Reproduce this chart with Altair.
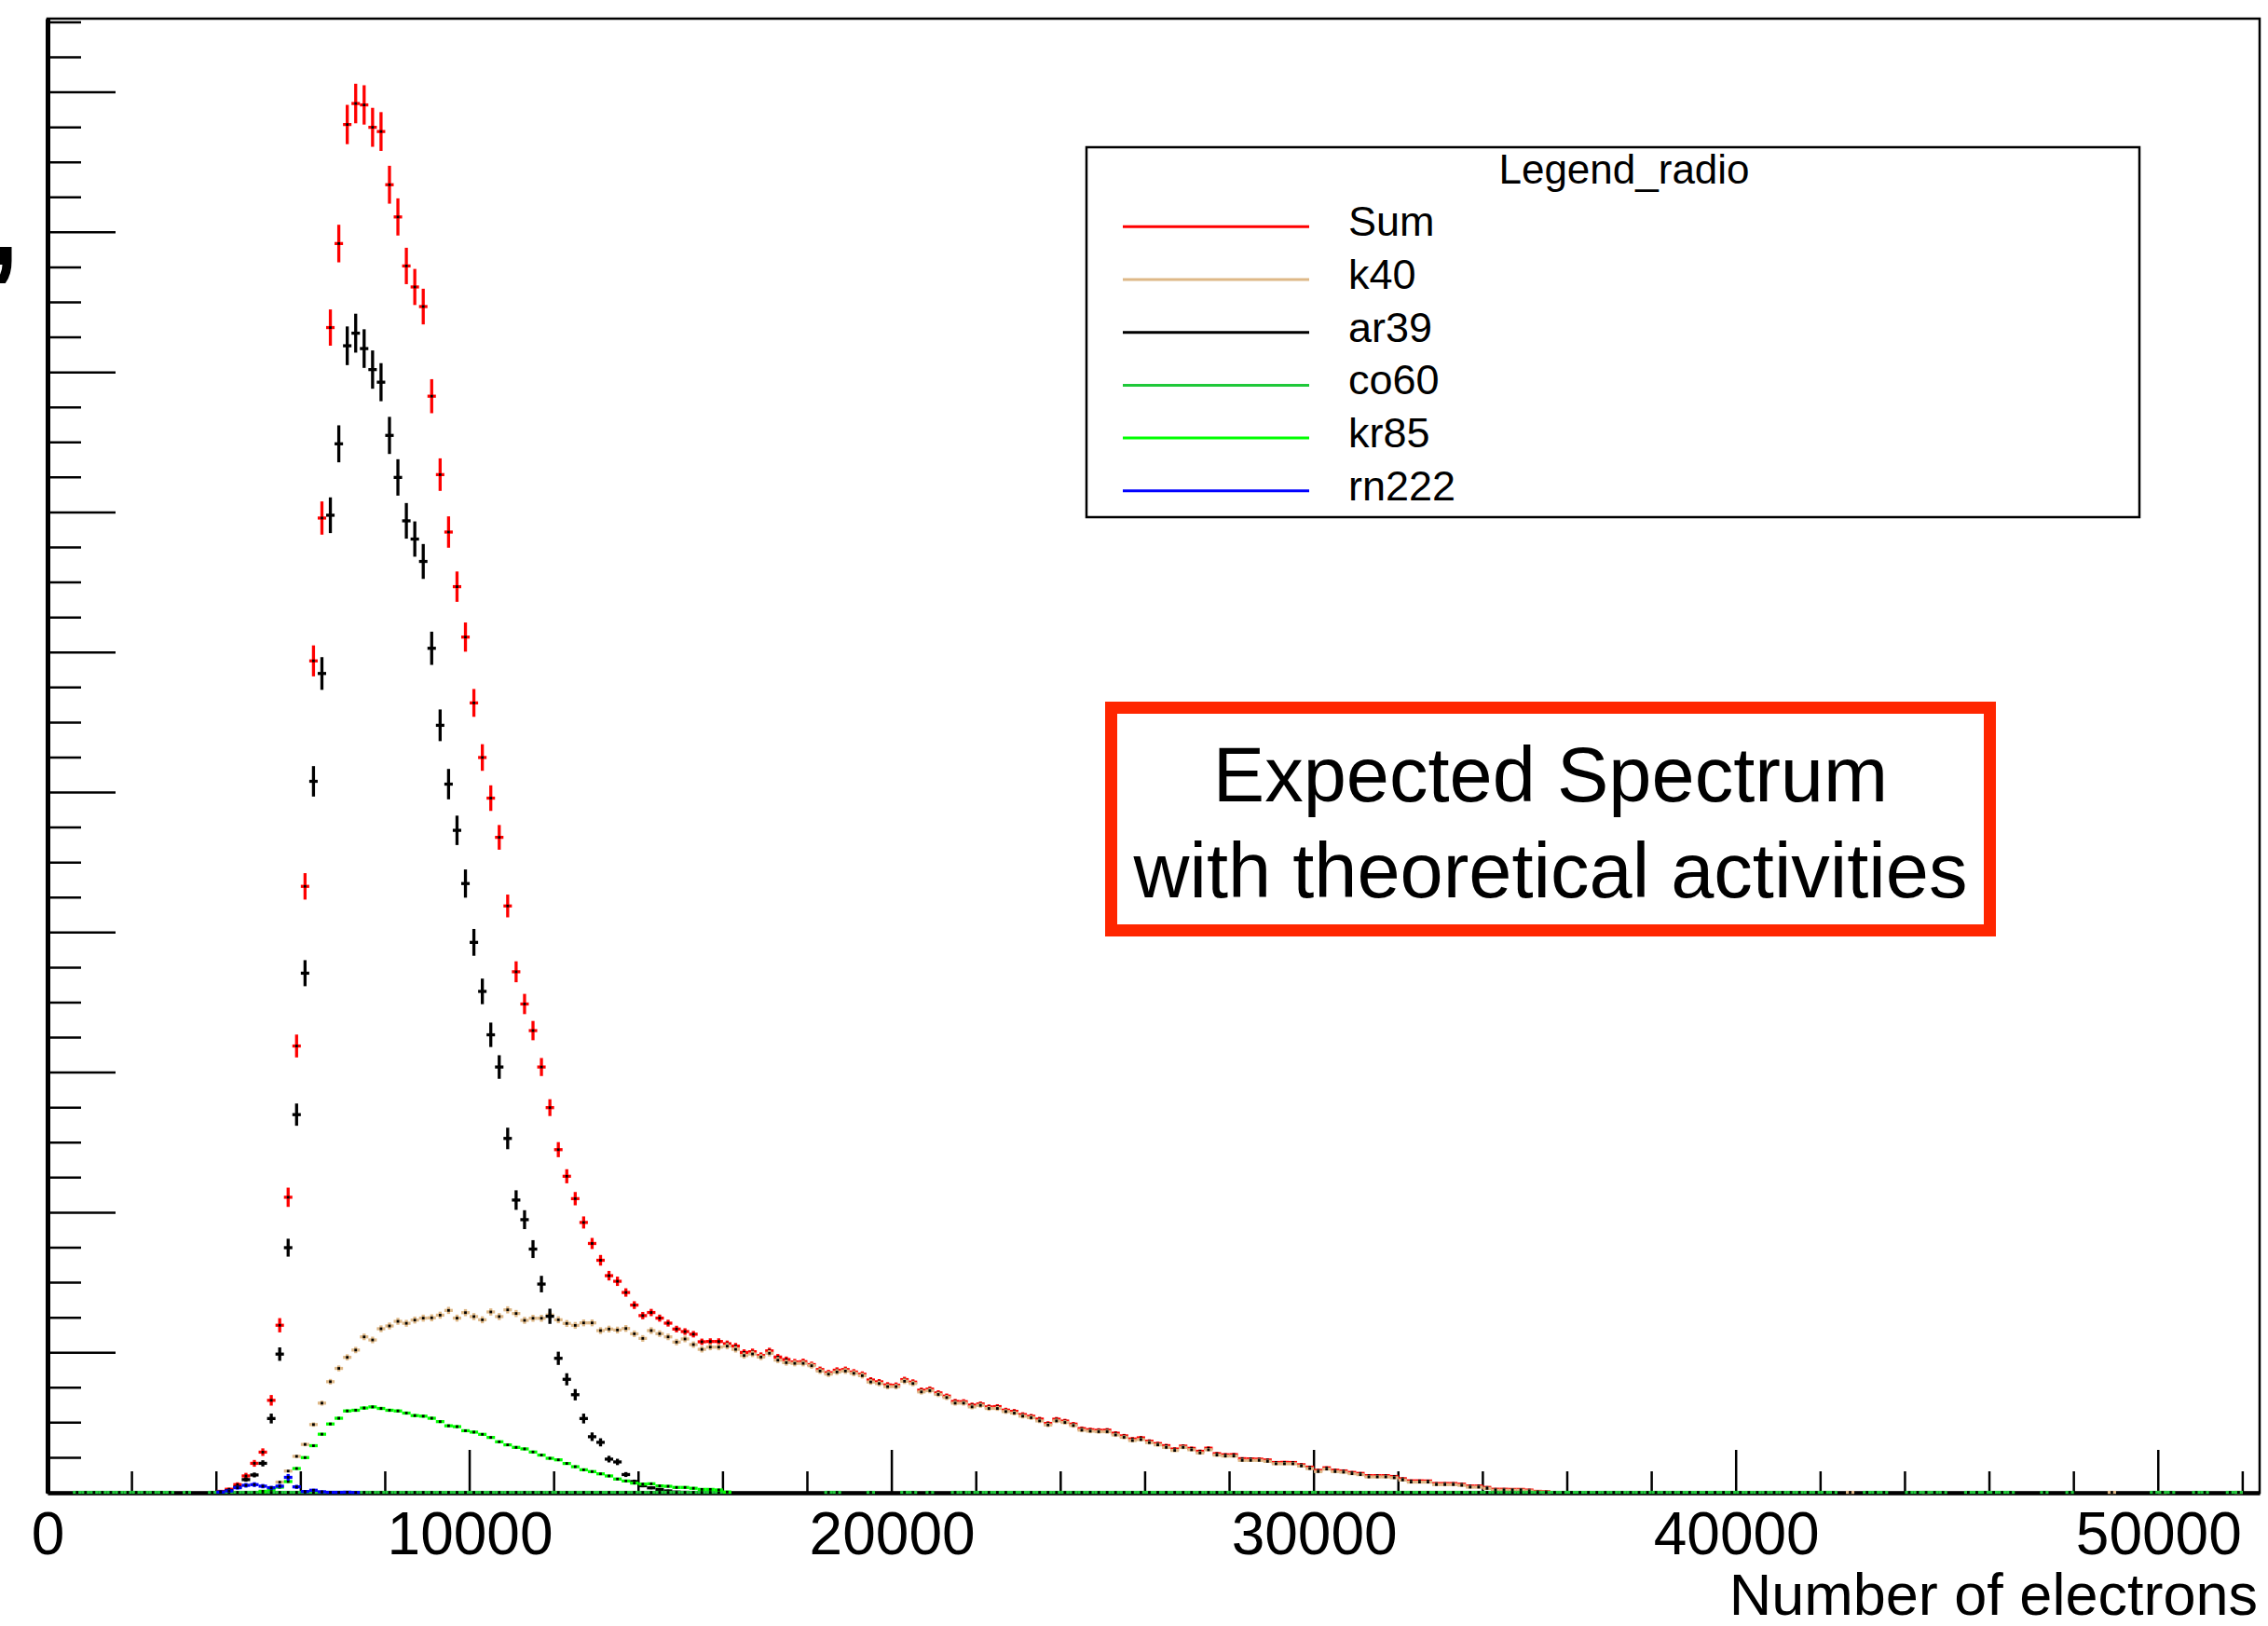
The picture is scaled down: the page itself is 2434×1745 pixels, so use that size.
import math
import altair as alt
import pandas as pd

# ---------------------------------------------------------------- axes
X_MAX = 52400
Y_MAX = 1052.6
BIN_WIDTH = 200

X_LABELS = [0, 10000, 20000, 30000, 40000, 50000]
X_MAJOR_TICKS = [10000, 20000, 30000, 40000, 50000]
X_MINOR_TICKS = [v for v in range(2000, 52001, 2000) if v % 10000]
Y_MAJOR_TICKS = list(range(100, 1001, 100))
Y_MINOR_TICKS = [v for v in range(25, 1051, 25) if v % 100]

# ---------------------------------------------------------------- histogram contents
# each list holds consecutive bins (width BIN_WIDTH) starting at the given bin centre
SUM_START = 4100
SUM = [1, 2.5, 5.8, 12, 21, 29, 66, 119.6, 211, 319, 433, 594, 696, 832, 892, 977,
       992, 991, 975, 972, 934, 911, 876, 861, 847, 783, 727, 686, 647, 611, 564, 525,
       496, 468, 419, 372, 349, 330, 304, 275, 245, 226, 210, 193, 178, 166, 155, 151,
       143, 134, 126.5, 128.7, 124.7, 121.1, 116.9, 115.1, 113.2, 107.8, 108, 108, 106.4,
       104.7, 100.2, 100.7, 98, 101.3, 96.9, 95.1,
       93.4, 93.6, 91.5, 88, 85.7, 87.5, 88, 86.2, 84.6, 80.5, 79.2, 77, 76.8, 80.8, 79,
       73.2, 74, 71.3, 69, 65.2, 65, 62.6, 63.4, 61.3, 61.5, 59, 58.1, 55.8, 54.6, 52.6,
       49.5, 52.5, 51.2, 49, 45.8, 45, 44.6, 44.7, 42.5, 40.6, 38.4, 39.2, 36.8, 35.1,
       33.6, 31.2, 33.3, 31.7, 29.6, 31.8, 27.9, 27.1, 27.2, 24.3, 24.2, 24, 23.4, 21.6,
       21.7, 21.6, 20, 18.3, 16, 17.8, 16.1, 15.6, 14.5, 13.8, 12.2, 12.2, 12.2, 11.6,
       10, 8.5, 8.5, 8.4, 6.6, 6.6, 6.6, 6.1, 4.8, 4.8, 3.8, 2.5, 2.5, 2.4, 2.4, 1.9,
       1, 0.7]

K40_START = 5100
K40 = [1, 3.6, 7.6, 15.5, 26, 34.5, 48.7, 64, 79.3, 88.8, 96.7, 101.9, 111.3, 109.1,
       117.1, 119.1, 122.4, 121, 123.3, 124.7, 124.9, 126.8, 130.2, 124.7, 128.6, 125.8,
       123.5, 129.1, 125.8, 130.6, 128, 123.1, 124.6, 124.6, 126.9, 123.5, 120.9, 119.5,
       121.3, 121.3, 115.8, 116.9, 116.2, 117.3, 113.5, 110.2, 115.8, 113.6, 111.3, 107.6,
       109.8, 105.8, 102.4, 104, 104, 104.7, 102.4, 98, 99.1, 96.9, 99.6, 94.7, 92.9,
       92.4, 92.4, 90.7, 86.9, 84.7, 86.2, 86.9, 85.3, 83.6, 79.1, 78, 75.8, 75.8, 79.6,
       78, 72, 72.9, 70.2, 68, 64, 64, 61.3, 62.4, 60.2, 60.2, 58, 56.9, 54.7, 53.6,
       51.3, 48.4, 51.3, 50.2, 48, 44.7, 44, 43.6, 43.6, 41.3, 39.6, 37.3, 38, 35.8,
       34.2, 32.4, 30.2, 32.4, 30.7, 28.4, 30.7, 26.9, 26.2, 26.2, 23.1, 23.1, 23.1,
       22.4, 20.7, 20.7, 20.7, 19.1, 17.3, 15.1, 16.9, 15.1, 14.7, 13.6, 12.9, 11.3,
       11.3, 11.3, 10.7, 9.1, 7.6, 7.6, 7.6, 5.8, 5.8, 5.8, 5.3, 4, 4, 3.1, 1.8, 1.8,
       1.8, 1.8, 1.3, 0.5, 0.3]
K40_FAR = {42700: 0.3, 44500: 0.3, 48900: 0.3, 50100: 0.3, 51900: 0.3}

AR39_START = 4100
AR39 = [0.5, 1.5, 4, 9.4, 12.7, 21, 53, 99, 175, 270, 371, 508, 585, 698, 749, 819,
        828, 817, 802, 793, 755, 725, 694, 681, 665, 603, 548, 506, 473, 435, 393, 358,
        327, 304, 253, 209, 195, 174, 149, 126, 96, 81, 70, 53, 40, 36, 24, 22, 13, 8,
        5, 3.5, 2.4, 1.3, 0.5, 0.3]

KR85_START = 5100
KR85 = [1, 2.4, 4, 8, 17.3, 25.1, 33.6, 41.8, 49.1, 53.2, 58.4, 58.9, 60.5, 61.3, 60.2,
        58.9, 58.4, 56.9, 55.1, 54.7, 53.2, 50.8, 47.8, 47.2, 44.3, 43.3, 41.7, 39.5,
        36.4, 34.2, 32.4, 31.3, 29.1, 26.9, 24.6, 23.5, 20.9, 18.6, 16.4, 15.1, 13.5, 12,
        9.8, 8.4, 6.9, 6.2, 6.4, 4.9, 4.6, 3.8, 3.8, 3.2, 2.4, 2.4, 2, 0.5]

RN222_START = 4100
RN222 = [0.5, 1.3, 3.6, 5.3, 5.8, 4.7, 3.6, 4.7, 11, 4.2, 0.9, 1.8, 0.7, 0.3, 0.3, 0.4, 0.2]

# co60 only leaves a trace just above zero; runs of filled bins (first, last centre)
CO60_RUNS = [(700, 2900), (3300, 3300), (3900, 16100), (18500, 18700), (19500, 19500),
             (20300, 20500), (20900, 20900), (21500, 42300), (43100, 43500),
             (44100, 44900), (45500, 46500), (47300, 47300), (47900, 47900),
             (49900, 50300), (50900, 51100), (51700, 51900)]
CO60_LEVEL = 0.3

# per-entry weight: the bin error is sqrt(weight * content)
ERR_WEIGHT = {"k40": 0.05, "ar39": 0.233, "co60": 0.0, "kr85": 0.02, "rn222": 0.5}

SERIES_ORDER = ["Sum", "k40", "ar39", "co60", "kr85", "rn222"]
COLORS = {"Sum": "#ff0000", "k40": "#deb887", "ar39": "#000000",
          "co60": "#1fc83a", "kr85": "#00ff00", "rn222": "#0000ff"}


def expand(start, values):
    return {start + BIN_WIDTH * i: v for i, v in enumerate(values)}


contents = {
    "Sum": expand(SUM_START, SUM),
    "k40": {**expand(K40_START, K40), **K40_FAR},
    "ar39": expand(AR39_START, AR39),
    "co60": {c: CO60_LEVEL for a, b in CO60_RUNS for c in range(a, b + 1, BIN_WIDTH)},
    "kr85": expand(KR85_START, KR85),
    "rn222": expand(RN222_START, RN222),
}


def bin_error(name, centre, value):
    if name == "Sum":
        var = sum(ERR_WEIGHT[k] * contents[k].get(centre, 0.0) for k in ERR_WEIGHT)
    else:
        var = ERR_WEIGHT[name] * value
    return math.sqrt(max(var, 0.0))


frames = {}
for name in SERIES_ORDER:
    rows = []
    for centre, value in sorted(contents[name].items()):
        if value <= 0:
            continue
        err = bin_error(name, centre, value)
        rows.append({"centre": centre, "left": centre - BIN_WIDTH / 2,
                     "right": centre + BIN_WIDTH / 2, "content": value,
                     "lo": max(value - err, 0.0), "hi": value + err})
    frames[name] = pd.DataFrame(rows)

# ---------------------------------------------------------------- chart
W, H = 2374, 1582
FONT = "Liberation Sans"
xs = alt.Scale(domain=[0, X_MAX], nice=False, zero=False)
ys = alt.Scale(domain=[0, Y_MAX], nice=False, zero=False)
# identical axis definitions on every layer so the shared axes merge cleanly
X_AXIS = alt.Axis(values=X_LABELS, format="d", labelFont=FONT, labelFontSize=64,
                  labelColor="black", labelPadding=14, ticks=False, grid=False,
                  domain=True, domainColor="black", domainWidth=4.5, title=None,
                  labelFlush=False, labelOverlap=False)
Y_AXIS = alt.Axis(labels=False, ticks=False, grid=False, domain=True,
                  domainColor="black", domainWidth=5, title=None)


def X(field):
    return alt.X(field, scale=xs, axis=X_AXIS)


def Y(field):
    return alt.Y(field, scale=ys, axis=Y_AXIS)


one = pd.DataFrame({"k": [0]})
layers = []

# ROOT-style ticks drawn inside the frame
layers.append(alt.Chart(pd.DataFrame({"v": X_MAJOR_TICKS})).mark_rule(
    color="black", strokeWidth=2.5).encode(x=X("v:Q"), y=alt.value(H), y2=alt.value(H - 46)))
layers.append(alt.Chart(pd.DataFrame({"v": X_MINOR_TICKS})).mark_rule(
    color="black", strokeWidth=2.5).encode(x=X("v:Q"), y=alt.value(H), y2=alt.value(H - 23)))
layers.append(alt.Chart(pd.DataFrame({"v": Y_MAJOR_TICKS})).mark_rule(
    color="black", strokeWidth=2.5).encode(y=Y("v:Q"), x=alt.value(0), x2=alt.value(73)))
layers.append(alt.Chart(pd.DataFrame({"v": Y_MINOR_TICKS})).mark_rule(
    color="black", strokeWidth=2.5).encode(y=Y("v:Q"), x=alt.value(0), x2=alt.value(36)))

# histograms drawn with error crosses and a dot at each bin centre
for name in SERIES_ORDER:
    df = frames[name]
    col = COLORS[name]
    base = alt.Chart(df)
    vbar = base.mark_rule(color=col, strokeWidth=3.3).encode(
        x=X("centre:Q"), y=Y("lo:Q"), y2="hi:Q")
    hbar = base.mark_rule(color=col, strokeWidth=3.3).encode(
        x=X("left:Q"), x2="right:Q", y=Y("content:Q"))
    dot = base.mark_square(color="black", size=8, opacity=1).encode(
        x=X("centre:Q"), y=Y("content:Q"))
    layers += [vbar, hbar, dot]

# legend box
layers.append(alt.Chart(one).mark_rect(fill="white", stroke="black", strokeWidth=2.5).encode(
    x=alt.value(1115), x2=alt.value(2245), y=alt.value(138), y2=alt.value(535)))
layers.append(alt.Chart(one).mark_text(
    text="Legend_radio", font=FONT, fontSize=44, color="black",
    align="center", baseline="alphabetic").encode(x=alt.value(1692), y=alt.value(177)))
for i, name in enumerate(SERIES_ORDER):
    row_y = 223.3 + 56.7 * i
    layers.append(alt.Chart(one).mark_rule(color=COLORS[name], strokeWidth=3).encode(
        x=alt.value(1154), x2=alt.value(1354), y=alt.value(row_y)))
    layers.append(alt.Chart(one).mark_text(
        text=name, font=FONT, fontSize=45, color="black",
        align="left", baseline="alphabetic").encode(
        x=alt.value(1396), y=alt.value(row_y + 10)))

# framed annotation
layers.append(alt.Chart(one).mark_rect(fill="white", stroke="#ff2600", strokeWidth=13).encode(
    x=alt.value(1141.5), x2=alt.value(2084.5), y=alt.value(739.5), y2=alt.value(978.5)))
for txt, yb in [("Expected Spectrum", 840), ("with theoretical activities", 943)]:
    layers.append(alt.Chart(one).mark_text(
        text=txt, font=FONT, fontSize=83, color="black",
        align="center", baseline="alphabetic").encode(x=alt.value(1613), y=alt.value(yb)))

# x-axis title, right-aligned under the frame
layers.append(alt.Chart(one).mark_text(
    text="Number of electrons", font=FONT, fontSize=63, color="black",
    align="right", baseline="alphabetic").encode(x=alt.value(W - 2), y=alt.value(1713)))

# remnant of a y-axis label at the left edge
layers.append(alt.Chart(one).mark_text(
    text=",", font=FONT, fontSize=128, fontWeight="bold", color="black",
    align="right", baseline="alphabetic").encode(x=alt.value(-30), y=alt.value(264)))

chart = alt.layer(*layers).properties(
    width=W, height=H,
    padding={"left": 51, "top": 20, "right": 9, "bottom": 143},
    autosize=alt.AutoSizeParams(type="none"),
    background="white",
).configure_view(stroke="black", strokeWidth=2.5)

chart.save("out.html", embed_options={"renderer": "svg", "actions": False})
